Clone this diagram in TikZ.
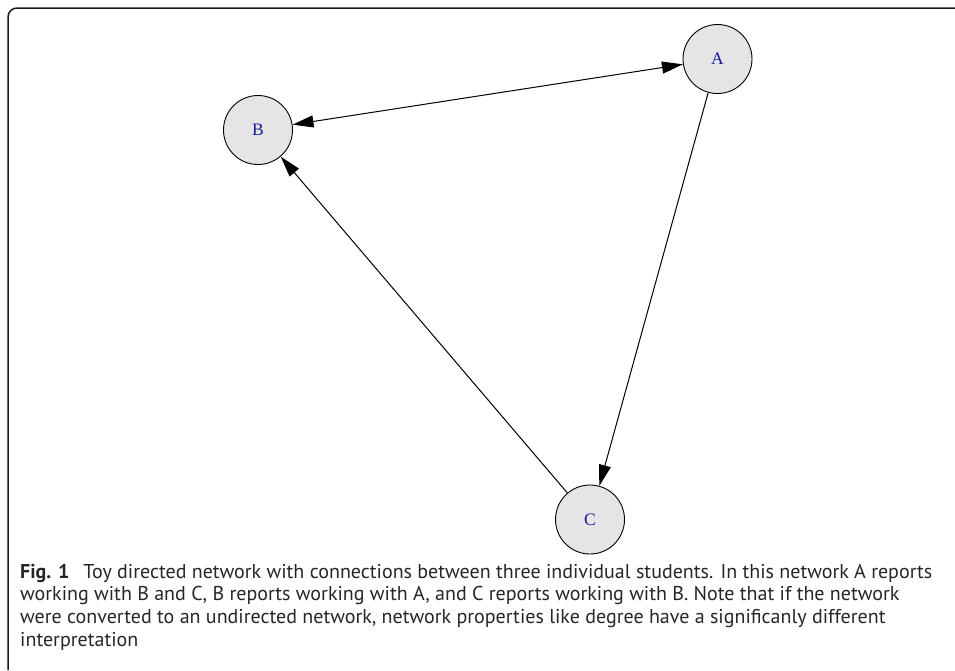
\documentclass[tikz,border=0pt]{standalone}
\usepackage{fontspec}
\setmainfont{Liberation Serif}
\newfontfamily\capfont{PT Sans}
\usetikzlibrary{arrows.meta}
\definecolor{nodefill}{HTML}{E5E5E5}
\definecolor{labelblue}{HTML}{1A1A9A}
\tikzset{tip/.tip={Triangle[length=21pt,width=12pt]}}
\begin{document}
\begin{tikzpicture}[x=1pt,y=-1pt,
  person/.style={circle,draw=black,line width=0.9pt,fill=nodefill,minimum size=69pt,inner sep=0pt,
    font=\fontsize{17.5}{20}\selectfont,text=labelblue},
  link/.style={line width=1pt,-tip},
  capline/.style={anchor=base west,inner sep=0pt,font=\capfont\fontsize{20}{23}\selectfont,text=black!85}
]
\useasboundingbox (0,0) rectangle (955,670);
\draw[line width=1.5pt,black!90] (8,670) -- (8,17) arc[start angle=180,end angle=270,radius=9] -- (955,8);
\node[person] (A) at (717.5,59) {A};
\node[person] (B) at (258,130) {B};
\node[person] (C) at (590,519.5) {C};
\draw[link,tip-tip] (A) -- (B);
\draw[link] (A) -- (C);
\draw[link] (C) -- (B);
\node[capline] (l1) at (20,578) {\textbf{Fig. 1}\hspace{0.7em}Toy directed network with connections between three individual students. In this network A reports};
\node[capline] (l2) at (20,600.7) {working with B and C, B reports working with A, and C reports working with B. Note that if the network};
\node[capline] (l3) at (20,623.4) {were converted to an undirected network, network properties like degree have a significanly different};
\node[capline] (l4) at (20,646.1) {interpretation};
\end{tikzpicture}
\end{document}
